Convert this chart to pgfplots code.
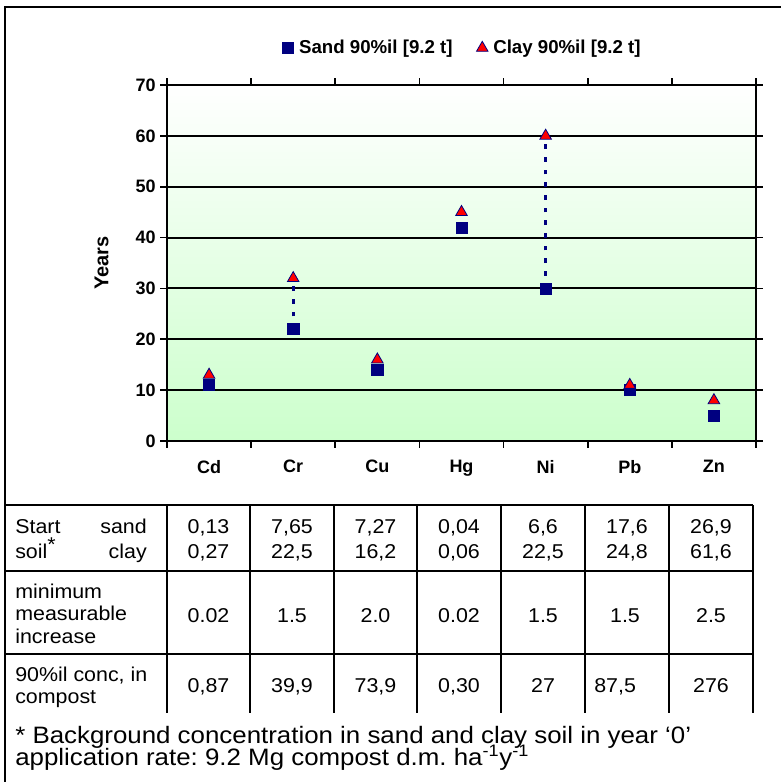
\documentclass[border=0pt]{standalone}
\usepackage{pgfplots}
\pgfplotsset{compat=1.18}
\usepackage{fontspec}
\setmainfont{Liberation Sans}
\frenchspacing

\definecolor{navy}{RGB}{0,0,128}
\definecolor{softgreen}{RGB}{204,255,204}

\newcommand\chartfont{\bfseries\fontsize{13.5}{16}\selectfont}
\newcommand\tabfont{\fontsize{15}{17}\selectfont}

\pgfplotsset{
  wideleg/.style={legend image code/.code={%
    \path[draw=none, fill=none] (0cm,-0.1cm) rectangle (0.44cm,0.1cm);
    \draw[##1] plot coordinates {(0.22cm,0cm)};}},
}

\begin{document}
\begin{tikzpicture}
\path[use as bounding box] (0,0) rectangle (585.75pt,-586.5pt);

\begin{axis}[
    at={(125.25pt,-330.75pt)}, anchor=south west,
    scale only axis, width=441.75pt, height=267pt,
    xmin=-0.5, xmax=6.5, ymin=0, ymax=70,
    xtick={-0.5,0.5,1.5,2.5,3.5,4.5,5.5,6.5},
    x tick label as interval,
    xticklabels={Cd,Cr,Cu,Hg,Ni,Pb,Zn},
    ytick={0,10,...,70},
    tick align=outside,
    major tick length=5pt,
    every tick/.style={black, line width=1.2pt},
    axis line style={line width=1.6pt},
    ymajorgrids,
    major grid style={black, line width=1.5pt},
    axis background/.style={top color=white, bottom color=softgreen},
    /pgf/number format/assume math mode=true,
    ticklabel style={font=\chartfont},
    xticklabel style={yshift=-6pt},
    ylabel={Years},
    ylabel style={font=\bfseries\fontsize{15}{17}\selectfont, at={(axis description cs:-0.111,0.5)}, anchor=center},
    legend style={at={(0.5,1.104)}, anchor=center, draw=none, fill=none,
        legend columns=2, font=\bfseries\fontsize{14}{16}\selectfont,
        /tikz/every even column/.append style={column sep=14pt}},
]

% dotted range lines for Cr and Ni
\addplot[navy, line width=2.2pt, dash pattern=on 3.5pt off 6pt, forget plot]
    coordinates {(1,22) (1,32)};
\addplot[navy, line width=2.2pt, dash pattern=on 3.5pt off 6pt, forget plot]
    coordinates {(4,30) (4,60)};

\addplot[only marks, wideleg, mark=square*, mark size=4.2pt, mark options={draw=navy, fill=navy}]
    coordinates {(0,11) (1,22) (2,14) (3,42) (4,30) (5,10) (6,5)};
\addlegendentry{Sand 90\%il [9.2 t]}

\addplot[only marks, wideleg, mark=triangle*, mark size=5pt, mark options={draw=navy, fill=red, line width=0.6pt}]
    coordinates {(0,13) (1,32) (2,16) (3,45) (4,60) (5,11) (6,8)};
\addlegendentry{Clay 90\%il [9.2 t]}

\end{axis}

\begin{scope}[x=0.75pt, y=-0.75pt]
  % outer frame (top and left)
  \draw[line width=1.5pt] (4,7) -- (781,7);
  \draw[line width=1.5pt] (5,7) -- (5,782);

  % table grid
  \foreach \yy in {505,571,654} \draw[line width=1.5pt] (5,\yy) -- (753,\yy);
  \foreach \xx in {167,250,334,417,501,585,669,753} \draw[line width=1.5pt] (\xx,505) -- (\xx,713);

  \begin{scope}[every node/.style={inner sep=0pt, font=\tabfont, xscale=1.07}]
    % row labels
    \node[anchor=base west] at (15,533) {Start};
    \node[anchor=base east] at (147,533) {sand};
    \node[anchor=base west] at (15,558) {soil\raisebox{0.35em}{*}};
    \node[anchor=base east] at (147,558) {clay};
    \node[anchor=base west] at (15,598) {minimum};
    \node[anchor=base west] at (15,620) {measurable};
    \node[anchor=base west] at (15,643) {increase};
    \node[anchor=base west] at (15,681) {90\%il conc, in};
    \node[anchor=base west] at (15,703) {compost};

    % start soil sand / clay
    \foreach \cx/\sa/\cl in {208.5/{0,13}/{0,27}, 292/{7,65}/{22,5}, 375.5/{7,27}/{16,2},
        459/{0,04}/{0,06}, 543/{6,6}/{22,5}, 627/{17,6}/{24,8}, 711/{26,9}/{61,6}} {
      \node[anchor=base] at (\cx,533) {\sa};
      \node[anchor=base] at (\cx,558) {\cl};
    }
    % minimum measurable increase
    \foreach \cx/\v in {208.5/0.02, 292/1.5, 375.5/2.0, 459/0.02, 543/1.5, 625/1.5, 711/2.5}
      \node[anchor=base] at (\cx,622) {\v};
    % 90%il conc in compost
    \foreach \cx/\v in {208.5/{0,87}, 292/{39,9}, 375.5/{73,9}, 459/{0,30}, 543/{27}, 711/{276}}
      \node[anchor=base] at (\cx,692) {\v};
    \node[anchor=base west] at (594,692) {87,5};
  \end{scope}

  % footnote
  \begin{scope}[every node/.style={inner sep=0pt, anchor=base west, xscale=1.09, font=\fontsize{17.8}{20}\selectfont}]
    \node at (15,743) {* Background concentration in sand and clay soil in year ‘0’};
    \node at (15,765) {application rate: 9.2 Mg compost d.m. ha\textsuperscript{-1}y\textsuperscript{-1}};
  \end{scope}
\end{scope}
\end{tikzpicture}
\end{document}
